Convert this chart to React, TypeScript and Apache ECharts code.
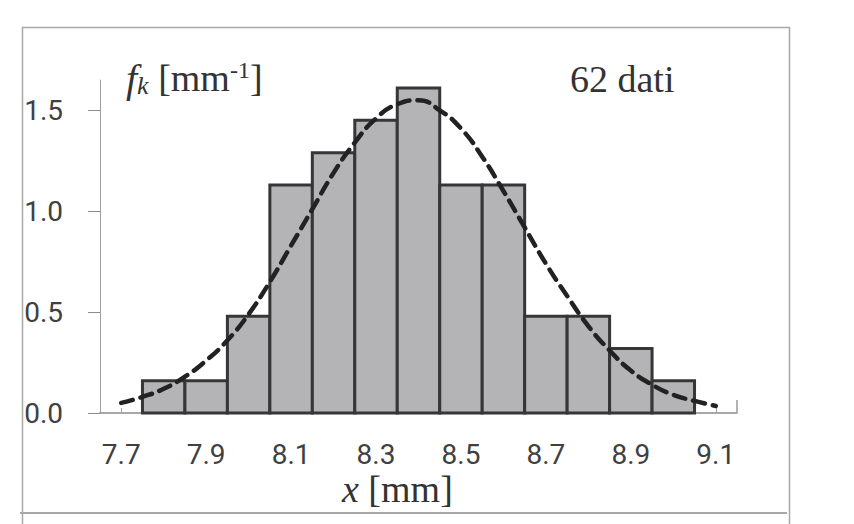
import React, { useEffect, useRef } from "react";
import * as echarts from "echarts";

// Histogram: bin centres (mm), bin width and frequency density f_k (mm^-1)
const binCenters = [7.8, 7.9, 8.0, 8.1, 8.2, 8.3, 8.4, 8.5, 8.6, 8.7, 8.8, 8.9, 9.0];
const binWidth = 0.1;
const densities = [0.16, 0.16, 0.48, 1.13, 1.29, 1.45, 1.61, 1.13, 1.13, 0.48, 0.48, 0.32, 0.16];

// Dashed curve, values
const curveX = [
  7.7, 7.75, 7.8, 7.85, 7.9, 7.95, 8.0, 8.05, 8.1, 8.15, 8.2, 8.25, 8.3, 8.35, 8.4,
  8.45, 8.5, 8.55, 8.6, 8.65, 8.7, 8.75, 8.8, 8.85, 8.9, 8.95, 9.0, 9.05, 9.1,
];
const curveY = [
  0.05, 0.08, 0.12, 0.18, 0.26, 0.36, 0.49, 0.65, 0.83, 1.01, 1.19, 1.34, 1.46, 1.53, 1.55,
  1.5, 1.41, 1.27, 1.1, 0.92, 0.74, 0.58, 0.43, 0.31, 0.21, 0.14, 0.09, 0.06, 0.035,
];

// Axis ticks and labels
const xTickValues = [7.7, 7.8, 7.9, 8.0, 8.1, 8.2, 8.3, 8.4, 8.5, 8.6, 8.7, 8.8, 8.9, 9.0, 9.1];
const xLabelValues = [7.7, 7.9, 8.1, 8.3, 8.5, 8.7, 8.9, 9.1];
const yTickValues = [0, 0.5, 1.0, 1.5];
const xMin = 7.65;
const xMax = 9.15;
const yMax = 1.65;

const labelFont = "'Liberation Sans Narrow', Roboto, 'Liberation Sans', sans-serif";
const serif = "'Liberation Serif', 'DejaVu Serif', serif";

export default function App() {
  const ref = useRef<HTMLDivElement>(null);

  useEffect(() => {
    document.body.style.margin = "0";
    const chart = echarts.init(ref.current!, null, { renderer: "svg" });

    const barData = binCenters.map((c, i) => [c - binWidth / 2, c + binWidth / 2, densities[i]]);
    const curveData = curveX.map((x, i) => [x, curveY[i]]);

    chart.setOption({
      animation: false,
      backgroundColor: "#ffffff",
      grid: { left: 100, right: 117, top: 80, bottom: 111, containLabel: false },
      xAxis: {
        type: "value",
        min: xMin,
        max: xMax,
        axisLine: { show: true, lineStyle: { color: "#8c8c8c", width: 1.5 } },
        axisTick: {
          show: true,
          inside: true,
          length: 5,
          customValues: xTickValues,
          lineStyle: { color: "#a0a0a0", width: 1 },
        },
        axisLabel: {
          show: true,
          customValues: xLabelValues,
          formatter: (v: number) => v.toFixed(1),
          fontSize: 28,
          lineHeight: 28,
          color: "#404040",
          fontFamily: labelFont,
          margin: 27,
        },
        splitLine: { show: false },
      },
      yAxis: {
        type: "value",
        min: 0,
        max: yMax,
        axisLine: { show: true, lineStyle: { color: "#a0a0a0", width: 1 } },
        axisTick: {
          show: true,
          inside: false,
          length: 12,
          customValues: yTickValues,
          lineStyle: { color: "#8c8c8c", width: 1 },
        },
        axisLabel: {
          show: true,
          customValues: yTickValues,
          formatter: (v: number) => v.toFixed(1),
          fontSize: 28,
          color: "#404040",
          fontFamily: labelFont,
          margin: 37,
        },
        splitLine: { show: false },
      },
      series: [
        {
          type: "custom",
          name: "f_k",
          data: barData,
          encode: { x: [0, 1], y: 2 },
          z: 2,
          renderItem: (params: any, api: any) => {
            const p0 = api.coord([api.value(0), api.value(2)]);
            const p1 = api.coord([api.value(1), 0]);
            return {
              type: "rect",
              shape: { x: p0[0], y: p0[1], width: p1[0] - p0[0], height: p1[1] - p0[1] },
              style: { fill: "#b4b4b6", stroke: "#363636", lineWidth: 3 },
            };
          },
        },
        {
          type: "line",
          name: "curve",
          data: curveData,
          smooth: true,
          showSymbol: false,
          z: 5,
          lineStyle: { color: "#222222", width: 4.5, type: [12, 8], cap: "round" },
          markLine: {
            silent: true,
            symbol: "none",
            label: { show: false },
            lineStyle: { color: "#9a9a9a", type: "solid", width: 1.5 },
            data: [[{ coord: [xMax, 0] }, { coord: [xMax, 0.065] }]],
          },
        },
      ],
      graphic: [
        {
          type: "rect",
          left: 20,
          top: 25,
          shape: { width: 767, height: 520 },
          style: { fill: "none", stroke: "#a8a8a8", lineWidth: 1.5 },
          silent: true,
        },
        {
          type: "line",
          shape: { x1: 20, y1: 513, x2: 787, y2: 513 },
          style: { stroke: "#a8a8a8", lineWidth: 2 },
          silent: true,
        },
        {
          type: "text",
          left: 126,
          top: 58,
          style: {
            text: "{f|f}{k|k}{n| [mm}{s|-1}{n|]}",
            rich: {
              f: { fontFamily: serif, fontStyle: "italic", fontSize: 40, fill: "#333", lineHeight: 44 },
              k: { fontFamily: serif, fontStyle: "italic", fontSize: 26, fill: "#333", lineHeight: 44, padding: [14, 0, 0, 0] },
              n: { fontFamily: serif, fontSize: 38, fill: "#333", lineHeight: 44 },
              s: { fontFamily: serif, fontSize: 24, fill: "#333", lineHeight: 44, padding: [0, 0, 16, 0] },
            },
          },
        },
        {
          type: "text",
          left: 570,
          top: 60,
          style: { text: "62 dati", font: `38px ${serif}`, fill: "#333" },
        },
        {
          type: "text",
          left: 342,
          top: 470,
          style: {
            text: "{x|x}{n| [mm]}",
            rich: {
              x: { fontFamily: serif, fontStyle: "italic", fontSize: 38, lineHeight: 38, fill: "#333" },
              n: { fontFamily: serif, fontSize: 38, lineHeight: 38, fill: "#333" },
            },
          },
        },
      ],
    });

    return () => chart.dispose();
  }, []);

  return (
    <div
      ref={ref}
      style={{ position: "absolute", left: 0, top: 0, width: 854, height: 524 }}
    />
  );
}
